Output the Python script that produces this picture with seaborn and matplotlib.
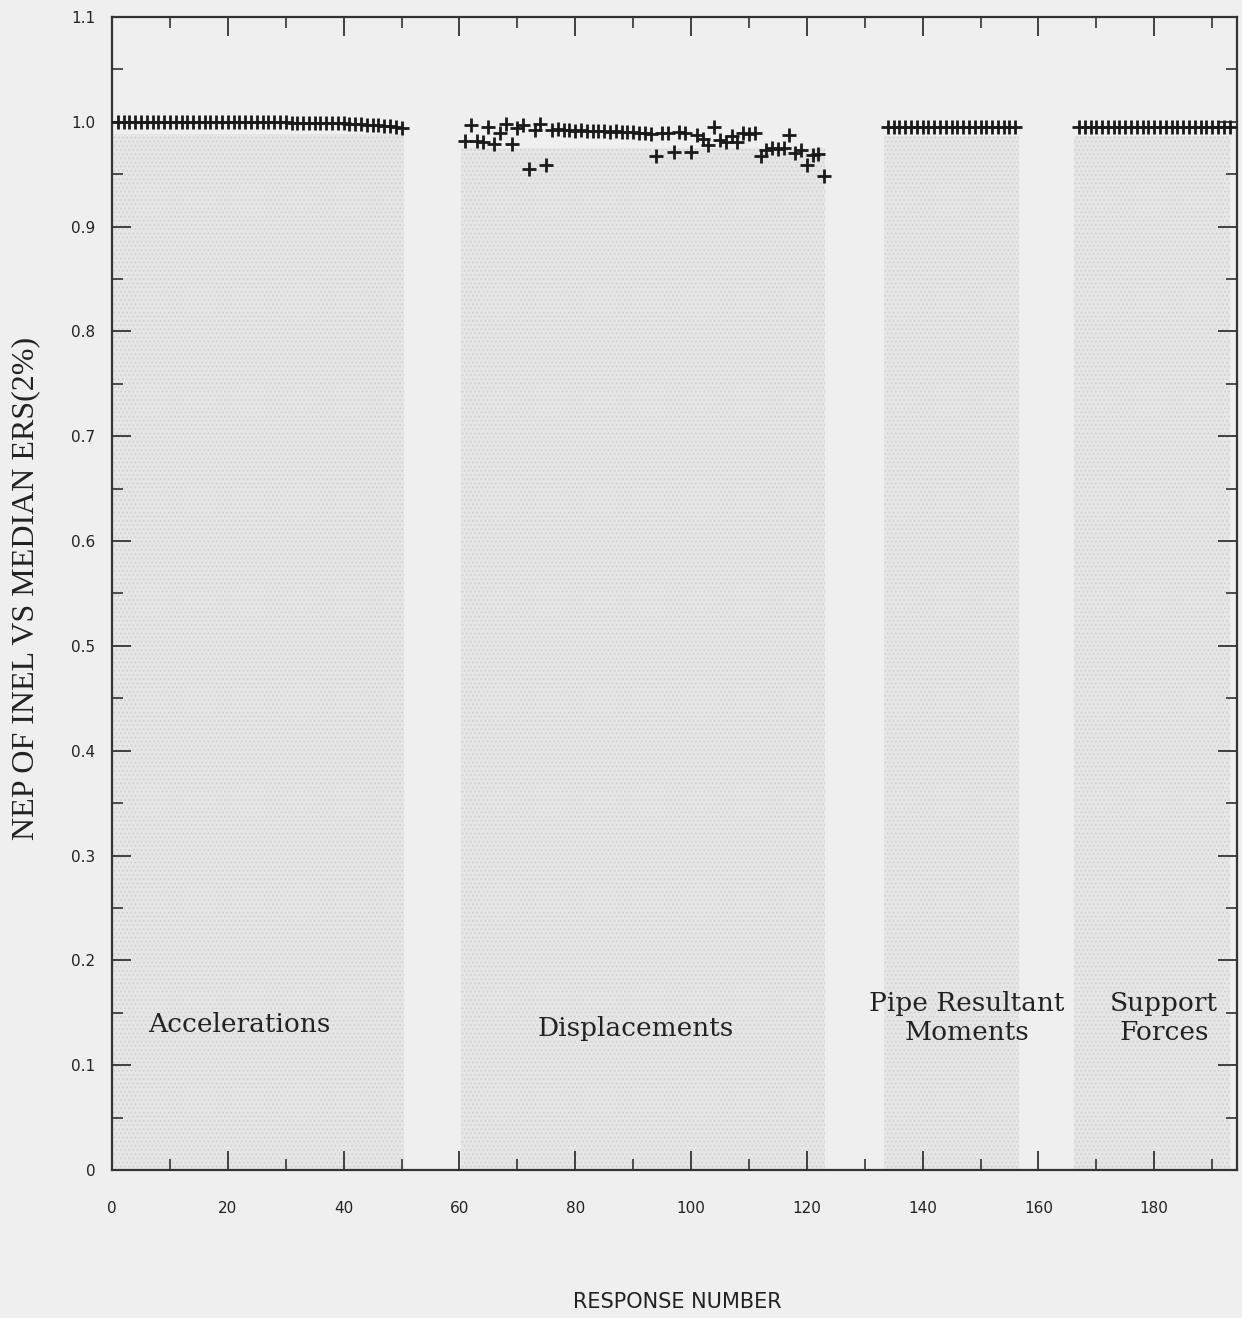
import numpy as np
import pandas as pd
import matplotlib
matplotlib.use("Agg")
import matplotlib.pyplot as plt
import seaborn as sns
from matplotlib.ticker import MultipleLocator

# ---------------- data ----------------
acc_x = list(range(1, 51))
acc_y = [1.000] * 30 + [0.999] * 10 + [0.998, 0.998, 0.998, 0.997, 0.997,
                                       0.997, 0.996, 0.996, 0.995, 0.994]

disp_x = list(range(61, 124))
disp_y = [0.982, 0.997, 0.982, 0.981, 0.995, 0.979, 0.989, 0.998, 0.979, 0.994,
          0.997, 0.955, 0.992, 0.998, 0.959, 0.992,
          0.993, 0.992, 0.992, 0.991, 0.992, 0.991, 0.991, 0.991, 0.991, 0.990,
          0.991, 0.990, 0.990, 0.990, 0.989,
          0.989, 0.988, 0.967, 0.989, 0.989, 0.971, 0.990, 0.989, 0.971, 0.987,
          0.984, 0.978, 0.995, 0.983, 0.981, 0.986, 0.981, 0.989, 0.988, 0.989,
          0.967, 0.973, 0.975, 0.974, 0.975, 0.987, 0.970, 0.973, 0.959, 0.968,
          0.969, 0.948]

pipe_x = list(range(134, 157))
pipe_y = [0.995] * len(pipe_x)

supp_x = list(range(167, 194))
supp_y = [0.995] * len(supp_x)

group_names = ["Accelerations", "Displacements", "Pipe Resultant\nMoments", "Support\nForces"]
group_spans = [(0.0, 50.5), (60.3, 123.2), (133.4, 156.6), (166.2, 193.1)]
group_tops = [0.988, 0.975, 0.986, 0.986]
label_x = [22, 90.5, 147.6, 181.7]
label_y = [0.139, 0.135, 0.145, 0.145]

df = pd.DataFrame({
    "response": acc_x + disp_x + pipe_x + supp_x,
    "nep": acc_y + disp_y + pipe_y + supp_y,
})

# ---------------- plot ----------------
sns.set_style("ticks")
bg = "#efefef"
plt.rcParams["hatch.linewidth"] = 0.8
fig = plt.figure(figsize=(12.42, 13.18), dpi=100, facecolor=bg)
ax = fig.add_axes([0.0902, 0.1123, 0.9058, 0.8748])
ax.set_facecolor(bg)

for (x0, x1), top in zip(group_spans, group_tops):
    ax.fill_between([x0, x1], 0, top, facecolor="#e6e6e6", edgecolor="#d2d2d2",
                    hatch="....", linewidth=0, zorder=0)

sns.scatterplot(data=df, x="response", y="nep", marker="+", s=90,
                linewidth=2.0, color="#1a1a1a", ax=ax, zorder=3, legend=False)

for name, lx, ly in zip(group_names, label_x, label_y):
    ax.text(lx, ly, name, ha="center", va="center", fontsize=19,
            family="DejaVu Serif", color="#222222", linespacing=1.2)

ax.set_xlim(0, 194.3)
ax.set_ylim(0, 1.1)
ax.xaxis.set_major_locator(MultipleLocator(20))
ax.xaxis.set_minor_locator(MultipleLocator(10))
ax.yaxis.set_major_locator(MultipleLocator(0.1))
ax.yaxis.set_minor_locator(MultipleLocator(0.05))
ax.set_yticks(np.arange(0, 1.11, 0.1))
ax.set_yticklabels(["0"] + [f"{v:.1f}" for v in np.arange(0.1, 1.11, 0.1)])

ax.tick_params(which="both", direction="in", top=True, right=True,
               colors="#333333", labelcolor="#222222")
ax.tick_params(which="major", length=14, width=1.3)
ax.tick_params(which="minor", length=8, width=1.2)
ax.tick_params(axis="x", which="major", pad=22, labelsize=11)
ax.tick_params(axis="y", which="major", pad=12, labelsize=11)
for lab in ax.get_xticklabels() + ax.get_yticklabels():
    lab.set_family("DejaVu Sans")

for sp in ax.spines.values():
    sp.set_color("#333333")
    sp.set_linewidth(1.6)

ax.set_xlabel("")
ax.set_ylabel("")
fig.text(677 / 1242, 1 - 1302 / 1318, "RESPONSE NUMBER", fontsize=15,
         family="DejaVu Sans", color="#222222", ha="center", va="center")
fig.text(26 / 1242, 1 - 588 / 1318, "NEP OF INEL VS MEDIAN ERS(2%)", fontsize=23,
         family="Liberation Serif", color="#222222", ha="center", va="center",
         rotation=90)

fig.savefig("out.png", dpi=100, facecolor=bg)
